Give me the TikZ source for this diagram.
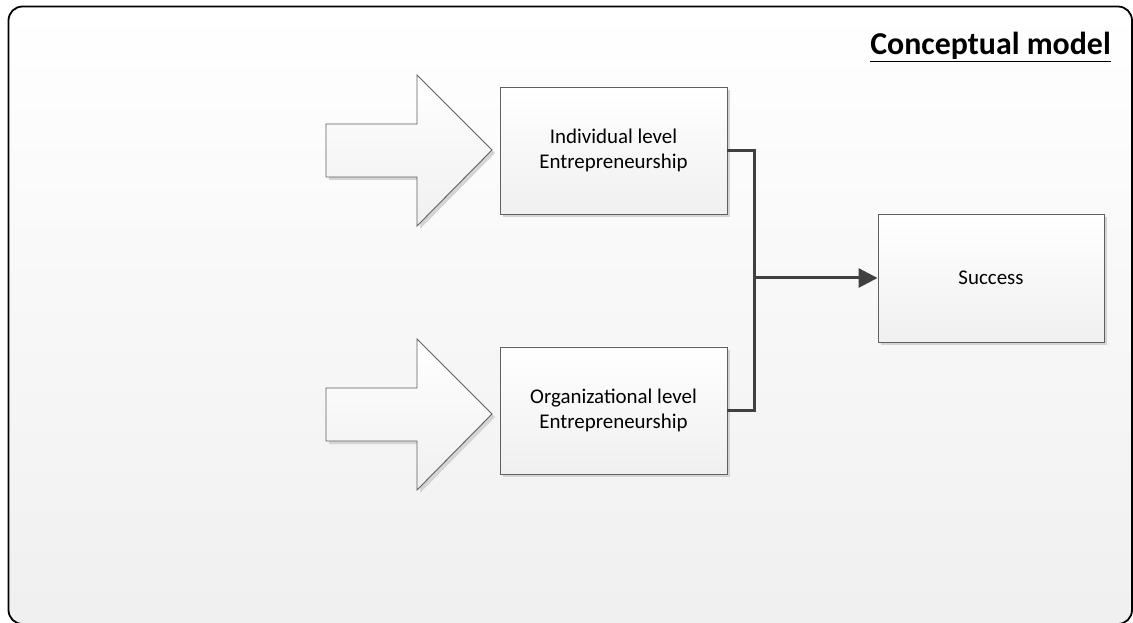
\documentclass[tikz,border=0pt]{standalone}
\usepackage{fontspec}
\setmainfont{Carlito}
\usetikzlibrary{arrows.meta,shadows}
\definecolor{edgegray}{HTML}{606060}
\definecolor{linkgray}{HTML}{404040}
\definecolor{shadegray}{HTML}{D4D4D4}
\begin{document}
\begin{tikzpicture}[x=1bp,y=-1bp,
  boxshape/.style={draw=edgegray, line width=0.9bp, top color=white, bottom color=black!6,
    minimum width=227bp, minimum height=127bp, inner sep=0pt, align=center,
    font=\fontsize{21}{25}\selectfont,
    drop shadow={shadow xshift=3bp, shadow yshift=-3bp, fill=shadegray, opacity=1}},
  bigarrow/.style={draw=edgegray, line width=0.9bp, top color=white, bottom color=black!6},
  arrowshadow/.style={fill=shadegray},
  conn/.style={draw=linkgray, line width=3bp},
]
\useasboundingbox (0,0) rectangle (1133,623);
\begin{scope}
\clip (0,0) rectangle (1133,623);
% outer frame
\draw[line width=1.8bp, rounded corners=14bp, top color=white, bottom color=black!6]
  (8.5,6.5) rectangle (1132,624);
\end{scope}

% title
\node[anchor=base east, inner sep=0pt, font=\bfseries\fontsize{32}{38}\selectfont] (title) at (1111,55) {\underline{Conceptual model}};

% block arrows feeding the two entrepreneurship boxes
\foreach \dy in {0,264}{
  \fill[arrowshadow, shift={(3,\dy+3)}]
    (326,124) -- (417,124) -- (417,75) -- (492,150) -- (417,226) -- (417,177) -- (326,177) -- cycle;
  \path[bigarrow, shift={(0,\dy)}]
    (326,124) -- (417,124) -- (417,75) -- (492,150) -- (417,226) -- (417,177) -- (326,177) -- cycle;
}

% boxes
\node[boxshape] (ind) at (613.5,150.5) {Individual level\\Entrepreneurship};
\node[boxshape] (org) at (613.5,410.5) {Organizational level\\Entrepreneurship};
\node[boxshape, minimum width=226bp, minimum height=128bp] (suc) at (991,278) {Success};

% connectors
\coordinate (jn) at (754,278);
\draw[conn] (ind.east) -| (jn) |- (org.east);
\draw[conn, -{Triangle[length=19bp, width=19bp]}] (jn) -- (suc.west);
\end{tikzpicture}
\end{document}
